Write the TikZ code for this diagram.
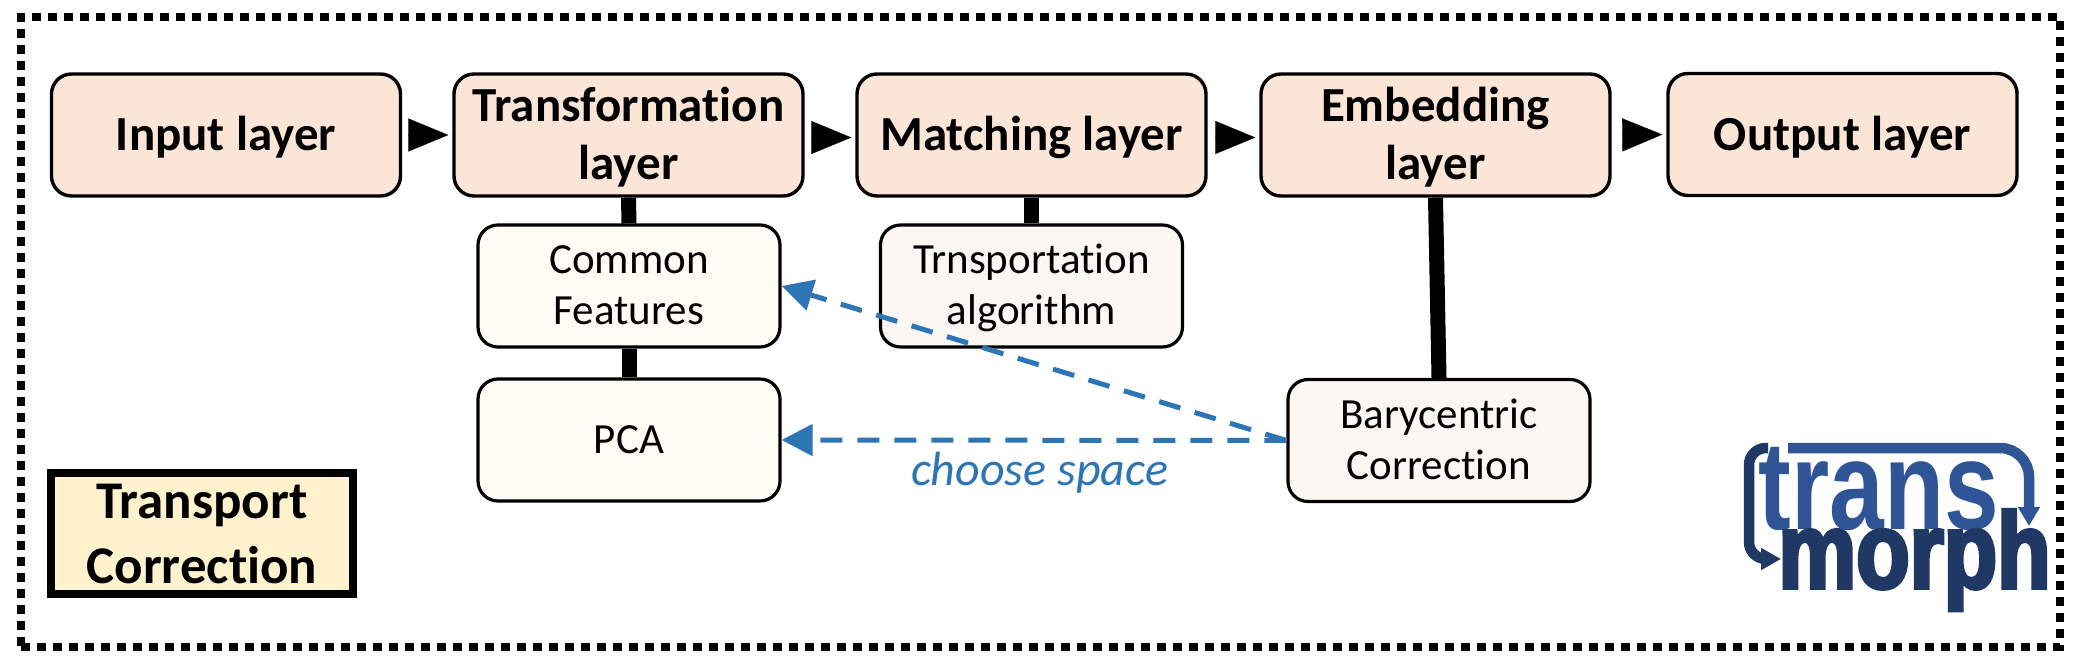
\documentclass[tikz,border=0pt]{standalone}
\usepackage{fontspec}
\setmainfont{Carlito}[RawFeature={-liga;-clig;-dlig}]
\newfontfamily\transfont[FakeStretch=0.78]{Liberation Sans}
\newfontfamily\morphfont[FakeStretch=0.81,FakeBold=3.5]{Liberation Sans}
\usetikzlibrary{arrows.meta}
\definecolor{layerfill}{HTML}{FBE5D6}
\definecolor{subA}{HTML}{FFFCF5}
\definecolor{subB}{HTML}{FDF7F3}
\definecolor{corrfill}{HTML}{FFF2CC}
\definecolor{bluedash}{HTML}{2E75B6}
\definecolor{logoA}{HTML}{2F5597}
\definecolor{logoB}{HTML}{1F3864}
\tikzset{
  x=1pt,y=-1pt,
  layerbox/.style={draw=black,line width=3.4pt,rounded corners=20pt,fill=layerfill,
    minimum width=349pt,minimum height=122pt,inner sep=0pt,align=center,
    font=\fontsize{49}{58}\selectfont\bfseries},
  subbox/.style={draw=black,line width=3.2pt,rounded corners=20pt,
    minimum width=302pt,minimum height=122pt,inner sep=0pt,align=center,
    font=\fontsize{43}{51}\selectfont},
  textlift/.style={text height=#1,text depth=0pt},
  flow/.style={line width=0.1pt,shorten <=9pt,shorten >=4pt,
    -{Triangle[length=40pt,width=33pt,fill=black]}},
  thickline/.style={line width=15pt,black},
  bluearrow/.style={bluedash,line width=5pt,dash pattern=on 22pt off 15pt,
    -{Triangle[length=31pt,width=31pt]}},
  logoarrow/.style={line width=10.5pt},
}
\begin{document}
\begin{tikzpicture}
\useasboundingbox (0,0) rectangle (2081,663);
\fill[white] (0,0) rectangle (2081,663);
\node[draw=black,line width=8.5pt,dash pattern=on 9pt off 7pt,minimum width=2039pt,minimum height=630pt,inner sep=0pt] (frame) at (1040.5,332) {};

\node[layerbox,textlift=32pt] (input) at (226,135) {Input layer};
\node[layerbox,textlift=90pt] (transf) at (628.5,135) {Transformation\\layer};
\node[layerbox,textlift=32pt] (match) at (1031.5,135) {Matching layer};
\node[layerbox,textlift=90pt] (embed) at (1435.5,135) {Embedding\\layer};
\node[layerbox,textlift=32pt] (output) at (1842.5,134.5) {Output layer};

\node[subbox,fill=subA,textlift=76pt] (common) at (629,286) {Common\\Features};
\node[subbox,fill=subA,textlift=26pt] (pca) at (629,440) {PCA};
\node[subbox,fill=subB,textlift=76pt] (trans) at (1031.5,286) {Trnsportation\\algorithm};
\node[subbox,fill=subB,textlift=77pt] (bary) at (1439,440.5) {Barycentric\\Correction};

\node[draw=black,line width=8pt,fill=corrfill,minimum width=302pt,minimum height=121pt,inner sep=0pt,align=center,
  textlift=99pt,
  font=\fontsize{53}{65}\selectfont\bfseries] (corr) at (202,533.5) {Transport\\Correction};

\draw[flow] (input.east) -- (transf.west);
\draw[flow] ([yshift=-2.5pt]transf.east) -- ([yshift=-2.5pt]match.west);
\draw[flow] ([yshift=-2.5pt]match.east) -- ([yshift=-2.5pt]embed.west);
\draw[flow] (embed.east) -- (output.west);

\draw[thickline] (transf.south) -- (common.north);
\draw[thickline] (common.south) -- (pca.north);
\draw[thickline] (match.south) -- (trans.north);
\draw[thickline] (embed.south) -- (bary.north);

\draw[bluearrow] (bary.west) -- (pca.east);
\draw[bluearrow] (bary.west) -- (common.east);
\node[text=bluedash,font=\fontsize{48}{56}\selectfont\itshape,inner sep=0pt] (choose) at (1039.5,473) {choose space};

% logo
\coordinate (la1) at (1788,448);
\coordinate (la2) at (2029,526);
\draw[logoA,logoarrow,rounded corners=29pt,-{Triangle[length=19pt,width=21pt]}] (la1) -- (2029,448) -- (la2);
\coordinate (lb1) at (1768,448);
\coordinate (lb2) at (1781,559);
\draw[logoB,logoarrow,rounded corners=17pt,-{Triangle[length=20pt,width=21pt]}] (lb1) -- (1749,448) -- (1749,559) -- (lb2);
\node[text=logoA,inner sep=0pt,anchor=base,font=\fontsize{126}{126}\transfont\bfseries] (logotrans) at (1879,529) {trans};
\node[text=logoB,inner sep=0pt,anchor=base,font=\fontsize{108}{108}\morphfont\bfseries] (logomorph) at (1914.5,588) {morph};
\end{tikzpicture}
\end{document}
